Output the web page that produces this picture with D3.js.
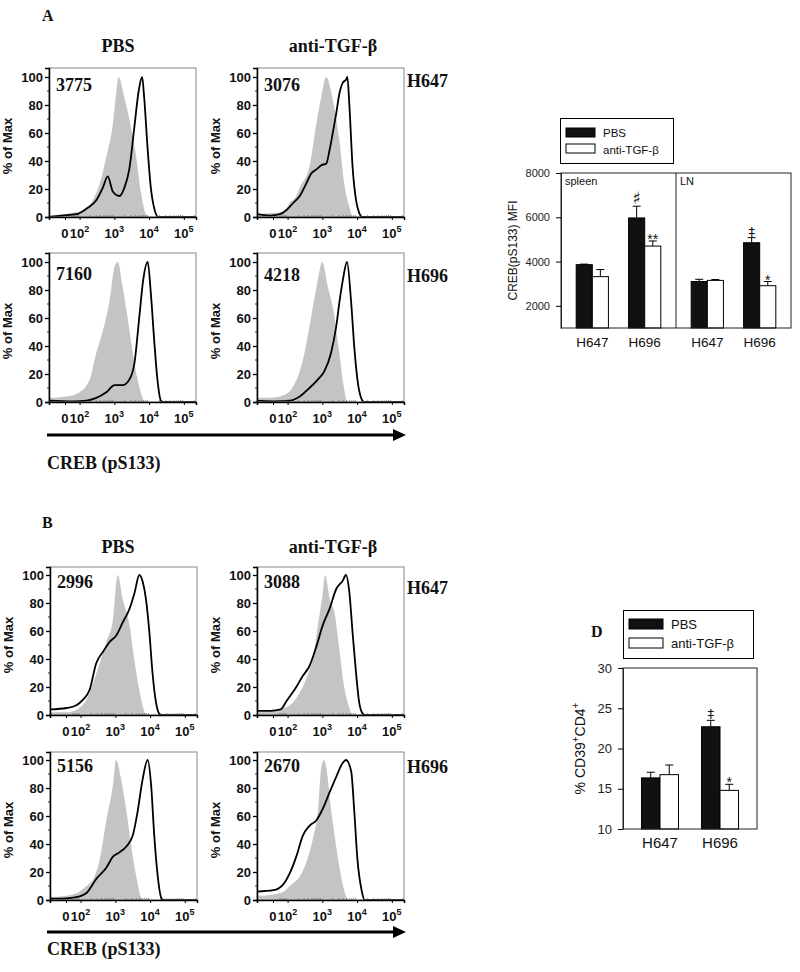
<!DOCTYPE html>
<html><head><meta charset="utf-8">
<script src="https://cdn.jsdelivr.net/npm/d3@7"></script>
<style>body{margin:0;background:#fff}</style>
</head><body>
<script>
// ---------------- DATA ----------------
const conditions = ["PBS", "anti-TGF-β"];
const strains = ["H647", "H696"];
const mfiA = [3775, 3076, 7160, 4218];   // PBS-H647, anti-H647, PBS-H696, anti-H696
const mfiB = [2996, 3088, 5156, 2670];
const histXTicks = [1.58, 2, 3, 4, 5];            // display (log10) units
const histXTickBase = ["0", "10", "10", "10", "10"];
const histXTickExp = ["", "2", "3", "4", "5"];
const histYTicks = [0, 20, 40, 60, 80, 100];
const xAxisLabel = "CREB (pS133)";
const yHistLabel = "% of Max";

// histograms: [log10 fluorescence, % of max]
const A_PBS_H647_ctrl = [[1.12,1],[1.5,2],[1.8,3],[2.09,5],[2.38,12],[2.58,24],[2.77,43],[2.96,67],[3.06,90],[3.12,100],[3.29,85],[3.48,64],[3.63,43],[3.77,17],[3.91,2],[3.97,0],[5.35,0]];
const A_PBS_H647_creb = [[1.12,0],[1.5,1],[1.91,2],[2.2,6],[2.48,12],[2.67,21],[2.81,29],[2.96,18],[3.15,15],[3.29,21],[3.43,34],[3.58,65],[3.70,90],[3.80,100],[3.86,85],[3.96,48],[4.05,21],[4.15,6],[4.27,0],[5.35,0]];
const A_anti_H647_ctrl = [[1.12,2],[1.6,3],[1.9,4],[2.06,10],[2.25,15],[2.35,21],[2.63,36],[2.83,67],[2.97,86],[3.11,100],[3.30,84],[3.49,55],[3.63,24],[3.78,7],[3.88,0],[5.35,0]];
const A_anti_H647_creb = [[1.12,7],[1.135,2],[1.5,1],[1.78,2],[1.97,5],[2.16,10],[2.35,15],[2.54,24],[2.68,31],[2.83,34],[2.97,37],[3.11,38],[3.21,48],[3.30,60],[3.40,74],[3.49,88],[3.59,96],[3.68,98],[3.72,100],[3.78,79],[3.87,36],[3.97,12],[4.06,3],[4.16,0],[5.35,0]];
const A_PBS_H696_ctrl = [[1.12,3],[1.63,4],[2.0,7],[2.29,16],[2.48,35],[2.67,51],[2.86,72],[3.01,97],[3.10,100],[3.24,82],[3.39,59],[3.53,35],[3.67,16],[3.81,3],[3.87,0],[5.35,0]];
const A_PBS_H696_creb = [[1.12,1],[1.8,0.5],[2.2,1],[2.48,3],[2.77,7],[3.01,12],[3.24,12],[3.43,16],[3.58,28],[3.72,61],[3.83,87],[3.96,100],[4.05,78],[4.15,43],[4.24,16],[4.34,1],[4.4,0],[5.35,0]];
const A_anti_H696_ctrl = [[1.12,3],[1.5,3],[1.9,5],[2.16,11],[2.44,30],[2.63,54],[2.83,82],[3.0,100],[3.16,82],[3.30,68],[3.49,35],[3.63,9],[3.72,0],[5.35,0]];
const A_anti_H696_creb = [[1.12,4],[1.135,1],[1.6,0.5],[2.06,1],[2.35,4],[2.63,10],[2.87,16],[3.06,22],[3.25,35],[3.40,54],[3.49,71],[3.59,87],[3.71,100],[3.83,71],[3.92,39],[4.01,16],[4.13,2],[4.2,0],[5.35,0]];

const B_PBS_H647_ctrl = [[1.12,2],[1.6,2],[1.9,4],[2.17,11],[2.36,23],[2.55,37],[2.74,52],[2.93,68],[3.07,100],[3.21,83],[3.41,64],[3.55,39],[3.69,18],[3.83,3],[3.88,0],[5.35,0]];
const B_PBS_H647_creb = [[1.12,4],[1.6,5],[1.88,7],[2.07,11],[2.26,18],[2.45,37],[2.64,45],[2.83,52],[3.03,57],[3.21,66],[3.41,76],[3.55,87],[3.69,100],[3.79,95],[3.88,83],[3.98,59],[4.07,30],[4.17,9],[4.26,1],[4.32,0],[5.35,0]];
const B_anti_H647_ctrl = [[1.12,2],[1.6,3],[1.9,5],[2.16,9],[2.35,16],[2.54,26],[2.73,41],[2.87,64],[3.01,87],[3.08,100],[3.21,83],[3.35,73],[3.49,47],[3.63,20],[3.78,5],[3.86,0],[5.35,0]];
const B_anti_H647_creb = [[1.12,60],[1.13,3],[1.5,3],[1.8,4],[1.97,10],[2.25,20],[2.44,28],[2.63,35],[2.83,49],[3.01,64],[3.21,76],[3.40,90],[3.59,96],[3.68,100],[3.78,87],[3.87,59],[3.97,30],[4.06,9],[4.16,1],[4.22,0],[5.35,0]];
const B_PBS_H696_ctrl = [[1.12,2],[1.6,3],[1.9,5],[2.17,10],[2.36,15],[2.55,29],[2.74,57],[2.93,82],[3.02,100],[3.17,86],[3.31,65],[3.45,40],[3.60,17],[3.74,2],[3.80,0],[5.35,0]];
const B_PBS_H696_creb = [[1.12,11],[1.13,1],[1.5,1],[1.88,2],[2.17,5],[2.45,15],[2.74,23],[2.93,31],[3.12,34],[3.31,38],[3.50,46],[3.64,63],[3.77,84],[3.93,100],[4.03,82],[4.12,46],[4.22,17],[4.33,1],[4.4,0],[5.35,0]];
const B_anti_H696_ctrl = [[1.12,3],[1.6,4],[1.9,6],[2.06,10],[2.35,17],[2.54,27],[2.73,44],[2.87,63],[2.97,95],[3.05,100],[3.11,95],[3.26,63],[3.40,38],[3.54,17],[3.68,3],[3.75,0],[5.35,0]];
const B_anti_H696_creb = [[1.12,6],[1.59,7],[1.87,11],[2.06,19],[2.25,31],[2.44,46],[2.63,53],[2.83,57],[3.01,65],[3.21,77],[3.40,88],[3.59,98],[3.68,100],[3.83,92],[3.92,63],[4.01,29],[4.13,7],[4.22,0],[5.35,0]];

// Panel C: CREB(pS133) MFI
const crebTissues = ["spleen", "LN"];
const crebStrains = ["H647", "H696"];
const crebSpleenPBS = [3860, 5970];
const crebSpleenPBSErr = [25, 530];
const crebSpleenAnti = [3320, 4700];
const crebSpleenAntiErr = [320, 230];
const crebLNPBS = [3100, 4850];
const crebLNPBSErr = [100, 230];
const crebLNAnti = [3150, 2910];
const crebLNAntiErr = [40, 190];
const crebSpleenPBSSig = ["", "♯"];
const crebSpleenAntiSig = ["", "**"];
const crebLNPBSSig = ["", "‡"];
const crebLNAntiSig = ["", "*"];
const crebYTicks = [2000, 4000, 6000, 8000];
const crebYLabel = "CREB(pS133) MFI";

// Panel D: % CD39+CD4+
const cd39Strains = ["H647", "H696"];
const cd39PBS = [16.35, 22.7];
const cd39PBSErr = [0.7, 0.8];
const cd39Anti = [16.75, 14.8];
const cd39AntiErr = [1.2, 0.75];
const cd39PBSSig = ["", "‡"];
const cd39AntiSig = ["", "*"];
const cd39YTicks = [10, 15, 20, 25, 30];

// ---------------- DRAW ----------------
const SERIF = "'Liberation Serif','Times New Roman',serif";
const SANS = "'Liberation Sans',Arial,Helvetica,sans-serif";
const svg = d3.select("body").append("svg").attr("width", 800).attr("height", 972)
  .style("display", "block");

function txt(x, y, s, opt) {
  const t = svg.append("text").attr("x", x).attr("y", y).text(s)
    .attr("font-family", opt.family || SANS)
    .attr("font-size", opt.size || 12)
    .attr("font-weight", opt.weight || "normal")
    .attr("text-anchor", opt.anchor || "start")
    .attr("fill", "#111");
  if (opt.rotate) t.attr("transform", `rotate(-90,${x},${y})`);
  return t;
}

const HW = 147;
function drawHist(box, h, ctrl, creb, mfi, mfiDy) {
  const x = d3.scaleLinear().domain([1.12, 5.35]).range([box.x, box.x + HW]);
  const y = d3.scaleLinear().domain([0, 100 * h / 140]).range([box.y + h, box.y]);
  const g = svg.append("g");
  const clipId = "clip" + Math.round(box.x) + "_" + Math.round(box.y);
  g.append("clipPath").attr("id", clipId).append("rect")
    .attr("x", box.x).attr("y", box.y - 2).attr("width", HW).attr("height", h + 2);
  const area = d3.area().x(d => x(d[0])).y0(y(0)).y1(d => y(d[1])).curve(d3.curveMonotoneX);
  const line = d3.line().x(d => x(d[0])).y(d => y(d[1])).curve(d3.curveMonotoneX);
  g.append("path").datum(ctrl).attr("d", area).attr("fill", "#c4c4c4")
    .attr("clip-path", `url(#${clipId})`);
  g.append("path").datum(creb).attr("d", line).attr("fill", "none")
    .attr("stroke", "#000").attr("stroke-width", 1.8).attr("stroke-linejoin", "round")
    .attr("clip-path", `url(#${clipId})`);
  // frame
  g.append("rect").attr("x", box.x).attr("y", box.y).attr("width", HW).attr("height", h)
    .attr("fill", "none").attr("stroke", "#888").attr("stroke-width", 1);
  // y axis
  const ya = g.append("g").attr("transform", `translate(${box.x},0)`)
    .call(d3.axisLeft(y).tickValues(histYTicks).tickSize(4).tickPadding(2));
  ya.select(".domain").attr("stroke", "#000").attr("stroke-width", 1.5);
  ya.selectAll(".tick line").attr("stroke-width", 1.3);
  ya.selectAll(".tick text").attr("font-family", SANS).attr("font-size", 13)
    .attr("font-weight", "bold").attr("fill", "#111");
  const yMinor = d3.range(10, 100, 20);
  g.selectAll(null).data(yMinor).join("line")
    .attr("x1", box.x - 2).attr("x2", box.x).attr("y1", d => y(d)).attr("y2", d => y(d))
    .attr("stroke", "#000").attr("stroke-width", 0.8);
  // x axis
  const xa = g.append("g").attr("transform", `translate(0,${box.y + h})`)
    .call(d3.axisBottom(x).tickValues(histXTicks).tickSize(3).tickFormat(""));
  xa.select(".domain").attr("stroke", "#000").attr("stroke-width", 1.5);
  const minor = [];
  for (let d = 1; d <= 5; d++) for (let k = 2; k <= 9; k++) {
    const v = d + Math.log10(k);
    if (v > 1.7 && v < 5.35) minor.push(v);
  }
  g.selectAll(null).data(minor).join("line")
    .attr("x1", d => x(d)).attr("x2", d => x(d))
    .attr("y1", box.y + h).attr("y2", box.y + h - 2)
    .attr("stroke", "#555").attr("stroke-width", 0.6);
  histXTicks.forEach((v, i) => {
    const t = g.append("text").attr("x", x(v)).attr("y", box.y + h + 21)
      .attr("text-anchor", "middle").attr("font-family", SANS).attr("font-size", 13)
      .attr("font-weight", "bold").attr("fill", "#111");
    t.append("tspan").text(histXTickBase[i]);
    if (histXTickExp[i]) t.append("tspan").attr("dy", -6).attr("font-size", 9).text(histXTickExp[i]);
  });
  // y label
  txt(box.x - 37, box.y + 8 + 70, yHistLabel, {size: 13, weight: "bold", anchor: "middle", rotate: true});
  // MFI
  txt(box.x + 7, box.y + mfiDy, String(mfi), {family: SERIF, size: 18, weight: "bold"});
}

function drawHistPanel(letter, letterY, titleY, boxes, h, pairs, mfis, mfiDys, rowLabelYs, arrowY, labelY) {
  txt(42, letterY, letter, {family: SERIF, size: 16, weight: "bold"});
  txt(118, titleY, conditions[0], {family: SERIF, size: 18, weight: "bold", anchor: "middle"});
  txt(333, titleY, conditions[1], {family: SERIF, size: 18, weight: "bold", anchor: "middle"});
  boxes.forEach((b, i) => drawHist(b, h, pairs[i][0], pairs[i][1], mfis[i], mfiDys[i]));
  txt(407, rowLabelYs[0], strains[0], {family: SERIF, size: 18, weight: "bold"});
  txt(407, rowLabelYs[1], strains[1], {family: SERIF, size: 18, weight: "bold"});
  svg.append("line").attr("x1", 47).attr("x2", 395).attr("y1", arrowY).attr("y2", arrowY)
    .attr("stroke", "#000").attr("stroke-width", 3);
  svg.append("path").attr("d", `M393,${arrowY - 6}L406,${arrowY}L393,${arrowY + 6}Z`).attr("fill", "#000");
  txt(47, labelY, xAxisLabel, {family: SERIF, size: 18, weight: "bold"});
}

drawHistPanel("A", 21, 52,
  [{x: 49, y: 68}, {x: 257, y: 68}, {x: 49, y: 253}, {x: 257, y: 253}], 149,
  [[A_PBS_H647_ctrl, A_PBS_H647_creb], [A_anti_H647_ctrl, A_anti_H647_creb],
   [A_PBS_H696_ctrl, A_PBS_H696_creb], [A_anti_H696_ctrl, A_anti_H696_creb]],
  mfiA, [23, 23, 27, 28], [87, 282], 435, 469);

drawHistPanel("B", 528, 553,
  [{x: 50, y: 567}, {x: 257, y: 567}, {x: 50, y: 752}, {x: 257, y: 752}], 148,
  [[B_PBS_H647_ctrl, B_PBS_H647_creb], [B_anti_H647_ctrl, B_anti_H647_creb],
   [B_PBS_H696_ctrl, B_PBS_H696_creb], [B_anti_H696_ctrl, B_anti_H696_creb]],
  mfiB, [21, 21, 20, 20], [594, 773], 932, 955);

// ---------- bar chart helper ----------
function drawBars(groupX, x0, y, cats, series) {
  const xs = d3.scaleBand().domain(series.map((s, i) => i)).range([0, x0.bandwidth()]);
  series.forEach((s, si) => {
    cats.forEach((c, ci) => {
      const bx = groupX + x0(c) + xs(si);
      const v = s.vals[ci], e = s.errs[ci];
      const cx = bx + xs.bandwidth() / 2;
      svg.append("line").attr("x1", cx).attr("x2", cx).attr("y1", y(v)).attr("y2", y(v + e))
        .attr("stroke", "#000").attr("stroke-width", 1);
      svg.append("line").attr("x1", cx - 4).attr("x2", cx + 4).attr("y1", y(v + e)).attr("y2", y(v + e))
        .attr("stroke", "#000").attr("stroke-width", 1);
      svg.append("rect").attr("x", bx).attr("y", y(v)).attr("width", xs.bandwidth())
        .attr("height", y.range()[0] - y(v)).attr("fill", s.fill)
        .attr("stroke", "#000").attr("stroke-width", 1);
      const sg = s.sigs[ci];
      if (sg) {
        const isStar = sg.startsWith("*");
        const isSharp = sg === "♯";
        txt(cx, y(v + e) + (isStar ? 3 : -2), sg,
          {family: isStar ? SANS : "'DejaVu Sans',sans-serif", size: isStar ? 14 : (isSharp ? 17 : 13), anchor: "middle"});
      }
    });
  });
}

function legend(x, y, w, h, rx, r1y, r2y, rw, rh, tx, t1y, t2y, fs) {
  svg.append("rect").attr("x", x).attr("y", y).attr("width", w).attr("height", h)
    .attr("fill", "#fff").attr("stroke", "#000").attr("stroke-width", 1);
  svg.append("rect").attr("x", rx).attr("y", r1y).attr("width", rw).attr("height", rh)
    .attr("fill", "#111").attr("stroke", "#000");
  svg.append("rect").attr("x", rx).attr("y", r2y).attr("width", rw).attr("height", rh)
    .attr("fill", "#fff").attr("stroke", "#000");
  txt(tx, t1y, conditions[0], {size: fs});
  txt(tx, t2y, conditions[1], {size: fs});
}

// ---------- Panel C ----------
{
  txt(591, 150, "C", {family: SERIF, size: 16, weight: "bold"});
  legend(560.5, 118.5, 113, 45, 566, 128, 144, 29, 9, 603, 137, 154, 11.5);
  const left = 561, right = 791, top = 173, bottom = 328;
  const y = d3.scaleLinear().domain([1000, 8000]).range([bottom, top]);
  const xT = d3.scaleBand().domain(crebTissues).range([left, right]);
  const x0 = d3.scaleBand().domain(crebStrains).range([0, xT.bandwidth()])
    .paddingInner(0.385).paddingOuter(0.29);
  drawBars(xT("spleen"), x0, y, crebStrains, [
    {vals: crebSpleenPBS, errs: crebSpleenPBSErr, sigs: crebSpleenPBSSig, fill: "#111"},
    {vals: crebSpleenAnti, errs: crebSpleenAntiErr, sigs: crebSpleenAntiSig, fill: "#fff"}]);
  drawBars(xT("LN"), x0, y, crebStrains, [
    {vals: crebLNPBS, errs: crebLNPBSErr, sigs: crebLNPBSSig, fill: "#111"},
    {vals: crebLNAnti, errs: crebLNAntiErr, sigs: crebLNAntiSig, fill: "#fff"}]);
  svg.append("rect").attr("x", left).attr("y", top).attr("width", right - left).attr("height", bottom - top)
    .attr("fill", "none").attr("stroke", "#222").attr("stroke-width", 1);
  svg.append("line").attr("x1", xT("LN")).attr("x2", xT("LN")).attr("y1", top).attr("y2", bottom)
    .attr("stroke", "#222").attr("stroke-width", 1);
  const ya = svg.append("g").attr("transform", `translate(${left},0)`)
    .call(d3.axisLeft(y).tickValues(crebYTicks).tickFormat(d3.format("d"))
      .tickSize(5).tickPadding(6).tickSizeOuter(0));
  ya.select(".domain").attr("stroke", "#222");
  ya.selectAll(".tick text").attr("font-family", SANS).attr("font-size", 11).attr("fill", "#222");
  crebTissues.forEach(t => {
    txt(xT(t) + 4, top + 12, t, {size: 11});
    crebStrains.forEach(s => {
      txt(xT(t) + x0(s) + x0.bandwidth() / 2, 347, s, {size: 13.5, anchor: "middle"});
    });
  });
  txt(517, (top + bottom) / 2, crebYLabel, {size: 12, anchor: "middle", rotate: true});
}

// ---------- Panel D ----------
{
  txt(591, 637, "D", {family: SERIF, size: 16, weight: "bold"});
  legend(623.5, 610.5, 130, 48, 629, 619, 638, 34, 10, 671, 629, 648, 13);
  const left = 623, right = 757, top = 668, bottom = 829;
  const y = d3.scaleLinear().domain([10, 30]).range([bottom, top]);
  const x0 = d3.scaleBand().domain(cd39Strains).range([0, right - left])
    .paddingInner(0.383).paddingOuter(0.308);
  drawBars(left, x0, y, cd39Strains, [
    {vals: cd39PBS, errs: cd39PBSErr, sigs: cd39PBSSig, fill: "#111"},
    {vals: cd39Anti, errs: cd39AntiErr, sigs: cd39AntiSig, fill: "#fff"}]);
  svg.append("rect").attr("x", left).attr("y", top).attr("width", right - left).attr("height", bottom - top)
    .attr("fill", "none").attr("stroke", "#222").attr("stroke-width", 1);
  const ya = svg.append("g").attr("transform", `translate(${left},0)`)
    .call(d3.axisLeft(y).tickValues(cd39YTicks).tickSize(5).tickPadding(6).tickSizeOuter(0));
  ya.select(".domain").attr("stroke", "#222");
  ya.selectAll(".tick text").attr("font-family", SANS).attr("font-size", 13).attr("fill", "#222");
  cd39Strains.forEach(s => {
    txt(left + x0(s) + x0.bandwidth() / 2, 848, s, {size: 15, anchor: "middle"});
  });
  const yl = txt(585, (top + bottom) / 2, "", {size: 14, anchor: "middle", rotate: true});
  yl.append("tspan").text("% CD39");
  yl.append("tspan").attr("dy", -6).attr("font-size", 10).text("+");
  yl.append("tspan").attr("dy", 6).text("CD4");
  yl.append("tspan").attr("dy", -6).attr("font-size", 10).text("+");
}
</script>
</body></html>
